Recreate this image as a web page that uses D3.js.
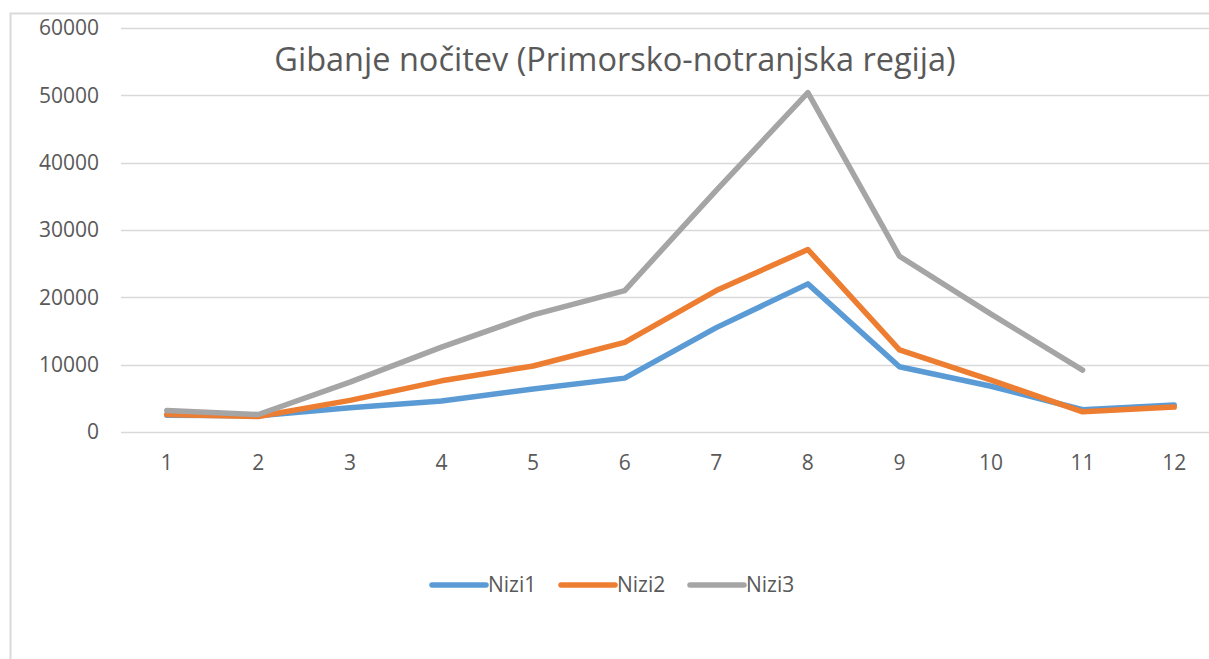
<!DOCTYPE html>
<html>
<head>
<meta charset="utf-8">
<script src="https://cdn.jsdelivr.net/npm/d3@7"></script>
<style>
  body { margin: 0; background: #fff; }
  text { font-family: "Open Sans", sans-serif; fill: #595959; }
</style>
</head>
<body>
<svg id="chart"></svg>
<script>
var months = ["1", "2", "3", "4", "5", "6", "7", "8", "9", "10", "11", "12"];
var nizi1 = [2500, 2400, 3600, 4600, 6400, 8000, 15500, 22000, 9700, 6800, 3300, 4000];
var nizi2 = [2600, 2300, 4700, 7600, 9800, 13300, 21000, 27100, 12200, 7700, 3000, 3700];
var nizi3 = [3200, 2600, 7400, 12600, 17400, 21000, 35900, 50400, 26100, 17500, 9200, null];
var seriesNames = ["Nizi1", "Nizi2", "Nizi3"];
var colors = ["#5B9BD5", "#ED7D31", "#A5A5A5"];
var yTicks = [0, 10000, 20000, 30000, 40000, 50000, 60000];

var W = 1209, H = 659;
var svg = d3.select("#chart").attr("width", W).attr("height", H);

// outer frame (only left and top edges are visible)
svg.append("path")
  .attr("d", "M10.5," + H + "V13.5H" + W)
  .attr("fill", "none").attr("stroke", "#d9d9d9").attr("stroke-width", 2);

var x = d3.scaleBand().domain(months).range([121, 1220]);
var y = d3.scaleLinear().domain([0, 60000]).range([432, 28]);

// gridlines
svg.append("g").selectAll("line")
  .data(yTicks.slice(1))
  .enter().append("line")
    .attr("x1", 121).attr("x2", W)
    .attr("y1", function(d) { return Math.round(y(d)) + 0.5; })
    .attr("y2", function(d) { return Math.round(y(d)) + 0.5; })
    .attr("stroke", "#d9d9d9").attr("stroke-width", 1.5);

// y axis labels
svg.append("g").selectAll("text")
  .data(yTicks)
  .enter().append("text")
    .attr("x", 99).attr("y", function(d) { return y(d); })
    .attr("dy", "0.35em").attr("text-anchor", "end")
    .style("font-size", "21px")
    .text(function(d) { return d; });

// x axis line
svg.append("line")
  .attr("x1", 121).attr("x2", W)
  .attr("y1", 432.5).attr("y2", 432.5)
  .attr("stroke", "#d9d9d9").attr("stroke-width", 1.5);

// x axis labels
svg.append("g").selectAll("text")
  .data(months)
  .enter().append("text")
    .attr("x", function(d) { return x(d) + x.bandwidth() / 2; })
    .attr("y", 463).attr("dy", "0.35em").attr("text-anchor", "middle")
    .style("font-size", "21px")
    .text(function(d) { return d; });

// title
svg.append("text")
  .attr("x", 615).attr("y", 60).attr("dy", "0.35em")
  .attr("text-anchor", "middle")
  .style("font-size", "32.5px")
  .text("Gibanje nočitev (Primorsko-notranjska regija)");

var line = d3.line()
  .defined(function(d) { return d != null; })
  .x(function(d, i) { return x(months[i]) + x.bandwidth() / 2; })
  .y(function(d) { return y(d); });

[nizi1, nizi2, nizi3].forEach(function(s, k) {
  svg.append("path")
    .attr("d", line(s))
    .attr("fill", "none")
    .attr("stroke", colors[k])
    .attr("stroke-width", 5.5)
    .attr("stroke-linejoin", "round")
    .attr("stroke-linecap", "round");
});

// legend
var legend = svg.append("g").selectAll("g")
  .data(seriesNames)
  .enter().append("g")
    .attr("transform", function(d, i) { return "translate(" + (432 + i * 129) + ",585)"; });

legend.append("line")
  .attr("x1", 0).attr("x2", 54).attr("y1", 0).attr("y2", 0)
  .attr("stroke", function(d, i) { return colors[i]; })
  .attr("stroke-width", 5.5).attr("stroke-linecap", "round");

legend.append("text")
  .attr("x", 56).attr("y", 0).attr("dy", "0.35em")
  .style("font-size", "21px")
  .text(function(d) { return d; });
</script>
</body>
</html>
